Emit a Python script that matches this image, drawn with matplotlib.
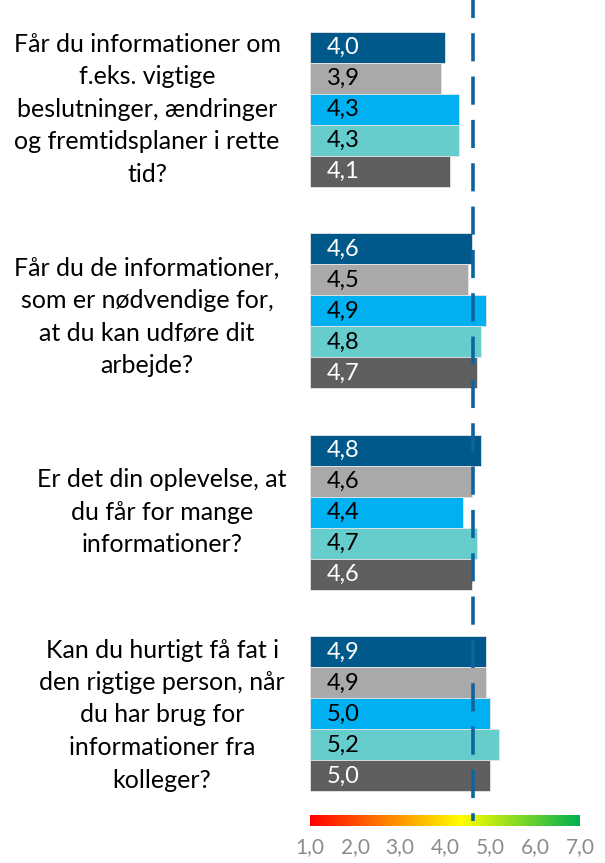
import numpy as np
import matplotlib
matplotlib.use("Agg")
import matplotlib.pyplot as plt
from matplotlib.colors import LinearSegmentedColormap

plt.rcParams['font.family'] = ['Lato', 'DejaVu Sans']

# ── Data ───────────────────────────────────────────────────
questions = [
    "Får du informationer om\nf.eks. vigtige\nbeslutninger, ændringer\nog fremtidsplaner i rette\ntid?",
    "Får du de informationer,\nsom er nødvendige for,\nat du kan udføre dit\narbejde?",
    "Er det din oplevelse, at\ndu får for mange\ninformationer?",
    "Kan du hurtigt få fat i\nden rigtige person, når\ndu har brug for\ninformationer fra\nkolleger?",
]
values = [
    [4.0, 3.9, 4.3, 4.3, 4.1],
    [4.6, 4.5, 4.9, 4.8, 4.7],
    [4.8, 4.6, 4.4, 4.7, 4.6],
    [4.9, 4.9, 5.0, 5.2, 5.0],
]
bar_colors  = ['#00598A', '#A9A9A9', '#00B0F0', '#66CCCC', '#5F5F5F']
text_colors = ['white', 'black', 'black', 'black', 'white']
average     = 4.62
tick_vals   = [1, 2, 3, 4, 5, 6, 7]

# ── Layout (pixel based) ───────────────────────────────────
W, H = 605, 863
px_unit   = 31.0     # bar height in px
first_top = 32       # top edge of first bar
ax_bottom = 826      # bottom of colour scale
cb_height = 10
group_step = 6.5
label_cx = [147, 147, 162, 162]
label_dy = [0, 6, 0, 1]   # small vertical nudges (px)

y_top = -0.5 - first_top / px_unit
y_bot = -0.5 + (ax_bottom - first_top) / px_unit

fig = plt.figure(figsize=(W / 100, H / 100), dpi=100)
ax = fig.add_axes([310 / W, (H - ax_bottom) / H, 270 / W, ax_bottom / H])
ax.set_xlim(1, 7)
ax.set_ylim(y_bot, y_top)

for g, vals in enumerate(values):
    ys = g * group_step + np.arange(len(vals))
    ax.barh(ys, np.array(vals) - 1, left=1, height=1.0, color=bar_colors,
            edgecolor='#E6E6E6', linewidth=0.6, zorder=2)
    for y, v, tc in zip(ys, vals, text_colors):
        ax.text(1.38, y, f"{v:.1f}".replace('.', ','), color=tc,
                fontsize=17, va='center', ha='left', zorder=3)
    # question text, centred next to its group
    cy = g * group_step + (len(vals) - 1) / 2
    yfig = (ax.transData.transform((1, cy))[1] - label_dy[g]) / H
    fig.text(label_cx[g] / W, yfig, questions[g], ha='center', va='center',
             fontsize=18, linespacing=1.5, color='black')

# colour scale
cmap = LinearSegmentedColormap.from_list(
    'scale', [(0, '#FF0000'), (0.56, '#FFFF00'), (1, '#00B050')])
cb_top = y_bot - cb_height / px_unit
ax.imshow(np.linspace(0, 1, 256)[None, :], cmap=cmap, aspect='auto',
          extent=[1, 7, y_bot, cb_top], zorder=1)

# average line
cb_mid = (y_bot + cb_top) / 2
ax.vlines(average, y_top, cb_mid, colors='#0E64A0', linewidth=2.6,
          linestyles=[(2.8, (7.8, 4.2))], zorder=4)

ax.set_xticks(tick_vals)
ax.set_xticklabels([f"{t:.1f}".replace('.', ',') for t in tick_vals],
                   color='#8C8C8C', fontsize=15)
ax.tick_params(axis='x', length=0, pad=8)
ax.set_yticks([])
for s in ax.spines.values():
    s.set_visible(False)

fig.savefig('out.png', dpi=100)
